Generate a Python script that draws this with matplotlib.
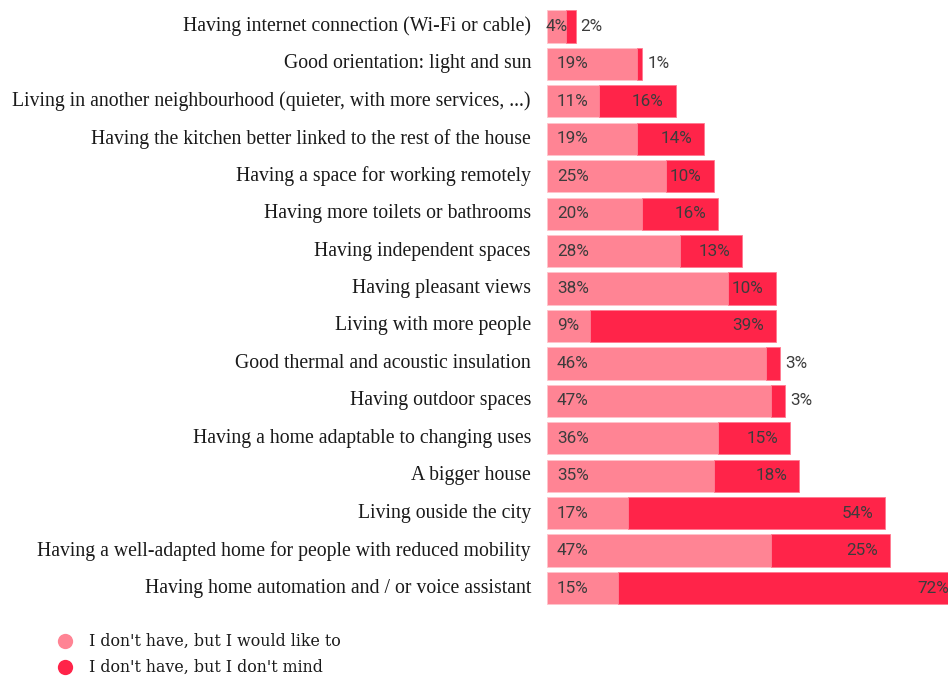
import matplotlib
matplotlib.use("Agg")
import matplotlib.pyplot as plt
from matplotlib.lines import Line2D

categories = [
    "Having internet connection (Wi-Fi or cable)",
    "Good orientation: light and sun",
    "Living in another neighbourhood (quieter, with more services, ...)",
    "Having the kitchen better linked to the rest of the house",
    "Having a space for working remotely",
    "Having more toilets or bathrooms",
    "Having independent spaces",
    "Having pleasant views",
    "Living with more people",
    "Good thermal and acoustic insulation",
    "Having outdoor spaces",
    "Having a home adaptable to changing uses",
    "A bigger house",
    "Living ouside the city",
    "Having a well-adapted home for people with reduced mobility",
    "Having home automation and / or voice assistant",
]
would_like = [4, 19, 11, 19, 25, 20, 28, 38, 9, 46, 47, 36, 35, 17, 47, 15]
dont_mind = [2, 1, 16, 14, 10, 16, 13, 10, 39, 3, 3, 15, 18, 54, 25, 72]
series_names = ["I don't have, but I would like to", "I don't have, but I don't mind"]

LIGHT = "#ff8494"
DARK = "#ff2449"
TXT = "#3c3c3c"
SERIF = ["Liberation Serif", "DejaVu Serif"]
SANS = ["Roboto", "DejaVu Sans"]

W, H = 948, 677
fig = plt.figure(figsize=(W / 100, H / 100), dpi=100)
ax = fig.add_axes([547 / W, 0.1038, 1 - 547 / W, 0.9885 - 0.1038])

y = list(range(len(categories)))
ax.barh(y, would_like, height=0.86, color=LIGHT, edgecolor="#ffc4cc", linewidth=0.6)
ax.barh(y, dont_mind, left=would_like, height=0.86, color=DARK, edgecolor="#ff7a90", linewidth=0.6)

ax.set_xlim(0, 84.2)
ax.set_ylim(len(categories) - 0.5, -0.5)
ax.axis("off")

px = 84.2 / (W - 547)  # data units per pixel
VFS = 12.3
for i, (a, b) in enumerate(zip(would_like, dont_mind)):
    # light segment label
    if a / px < 40:
        ax.text(a / 2, i, f"{a}%", ha="center", va="center", fontsize=VFS,
                family=SANS, color=TXT)
    else:
        ax.text(10 * px, i, f"{a}%", ha="left", va="center", fontsize=VFS,
                family=SANS, color=TXT)
    # dark segment label
    if b >= 8:
        ax.text(a + b - 12 * px, i, f"{b}%", ha="right", va="center", fontsize=VFS,
                family=SANS, color=TXT)
    else:
        ax.text(a + b + 5 * px, i, f"{b}%", ha="left", va="center", fontsize=VFS,
                family=SANS, color=TXT)
    # category label
    ax.text(-16 * px, i, categories[i], ha="right", va="center", fontsize=14.2,
            family=SERIF, color="#1a1a1a")

# legend
for k, (name, col) in enumerate(zip(series_names, [LIGHT, DARK])):
    yy = 1 - (641 + 26 * k) / H
    fig.add_artist(Line2D([65 / W], [yy], marker="o", markersize=11, color=col,
                          markeredgewidth=0, transform=fig.transFigure))
    fig.text(89 / W, yy, name, ha="left", va="center", fontsize=11.4,
             family=["DejaVu Serif"], color="#1a1a1a")

fig.savefig("out.png", dpi=100)
